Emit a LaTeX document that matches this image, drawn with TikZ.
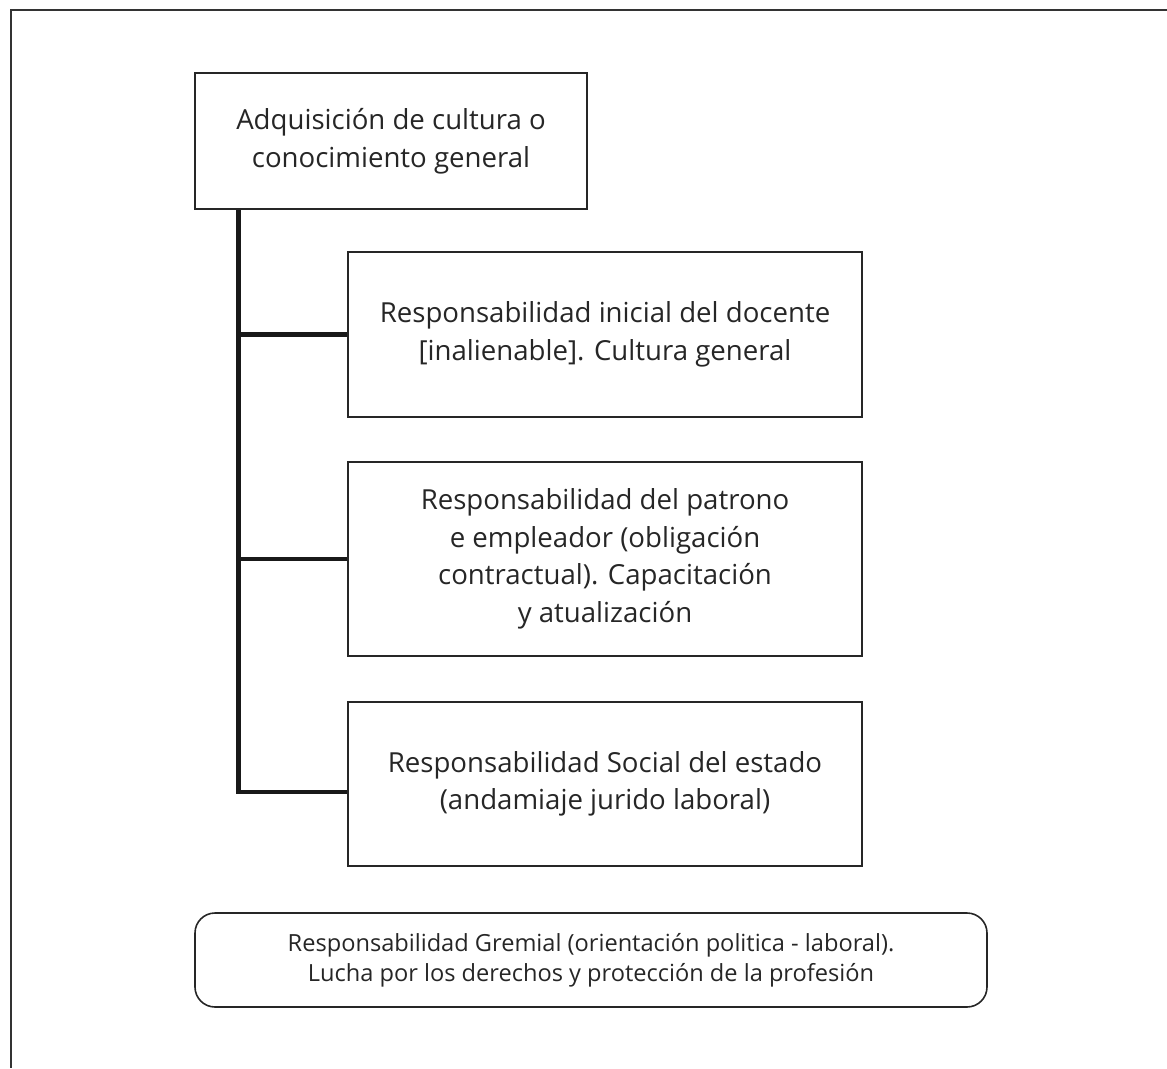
\documentclass[tikz,border=0pt]{standalone}
\usepackage{fontspec}
\setmainfont{Open Sans}
\begin{document}
\begin{tikzpicture}[x=1pt,y=-1pt,
  box/.style={draw=black!85,line width=1.6pt,minimum width=#1,align=center,inner sep=0pt,font=\fontsize{27.6}{37.5}\selectfont\color{black!85}},
  trunk/.style={line width=4.8pt,draw=black!90}]
\useasboundingbox (0,0) rectangle (1167,1068);
\draw[line width=1.8pt,black!80] (1167,10) -- (11,10) -- (11,1068);
\node[box=392pt,minimum height=136pt] (top) at (391,141) {Adquisición de cultura o\\conocimiento general};
\node[box=514pt,minimum height=165pt] (b1) at (605,334.5) {Responsabilidad inicial del docente\\{[}inalienable{]}. Cultura general};
\node[box=514pt,minimum height=194pt] (b2) at (605,559) {Responsabilidad del patrono\\e empleador (obligación\\contractual). Capacitación\\y atualización};
\node[box=514pt,minimum height=164pt] (b3) at (605,784) {Responsabilidad Social del estado\\(andamiaje jurido laboral)};
\node[box=792pt,minimum height=94pt,rounded corners=20pt,font=\fontsize{23.6}{30}\selectfont\color{black!85}] (g) at (591,960) {Responsabilidad Gremial (orientación politica - laboral).\\Lucha por los derechos y protección de la profesión};
\coordinate (t) at ([xshift=44pt]top.south west);
\coordinate (e3) at ([yshift=-8pt]b3.west);
\draw[trunk] (t) |- (e3);
\draw[trunk] (b1.west) -- (b1.west -| t);
\draw[trunk] (b2.west) -- (b2.west -| t);
\end{tikzpicture}
\end{document}
